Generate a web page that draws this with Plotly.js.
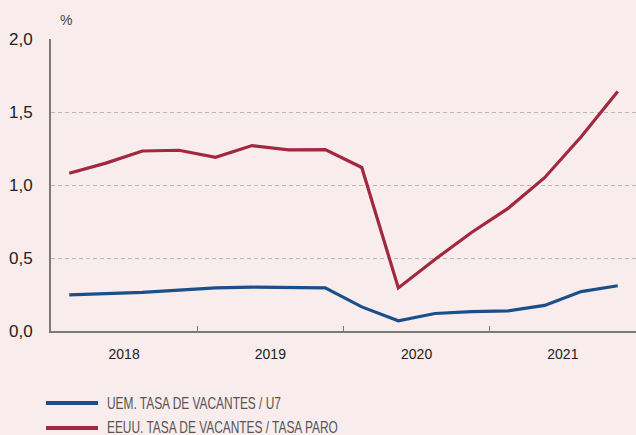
<!DOCTYPE html>
<html>
<head>
<meta charset="utf-8">
<script src="https://cdn.plot.ly/plotly-3.0.1.min.js"></script>
<style>
html,body{margin:0;padding:0;background:#F8ECEC;}
#chart{width:636px;height:435px;}
</style>
</head>
<body>
<div id="chart"></div>
<script>
// Quarterly data, 2018 T1 .. 2021 T4
const quarters = ["2018-T1","2018-T2","2018-T3","2018-T4","2019-T1","2019-T2","2019-T3","2019-T4","2020-T1","2020-T2","2020-T3","2020-T4","2021-T1","2021-T2","2021-T3","2021-T4"];
const years = ["2018","2019","2020","2021"];
const uemValues = [0.247,0.256,0.265,0.28,0.295,0.30,0.295,0.295,0.165,0.07,0.12,0.133,0.138,0.175,0.27,0.31];
const eeuuValues = [1.08,1.15,1.233,1.238,1.19,1.27,1.24,1.242,1.12,0.295,0.49,0.675,0.84,1.05,1.33,1.64];
const seriesNames = ["UEM. TASA DE VACANTES / U7","EEUU. TASA DE VACANTES / TASA PARO"];
const yTicks = [0,0.5,1.0,1.5,2.0];

const colors = ["#1B4F8A","#A2283F"];
const xIdx = quarters.map((q,i)=>i);
const perYear = quarters.length / years.length;
const yearCenters = years.map((y,i)=>i*perYear + (perYear-1)/2);
const yearBounds = years.slice(1).map((y,i)=>(i+1)*perYear - 0.5);

const traces = [
  {x:xIdx, y:uemValues, type:"scatter", mode:"lines", name:seriesNames[0], line:{color:colors[0], width:3.2}, showlegend:false, hoverinfo:"skip"},
  {x:xIdx, y:eeuuValues, type:"scatter", mode:"lines", name:seriesNames[1], line:{color:colors[1], width:3.2}, showlegend:false, hoverinfo:"skip"},
  {x:yearBounds, y:yearBounds.map(()=>0), xaxis:"x2", type:"scatter", mode:"markers", marker:{opacity:0}, showlegend:false, hoverinfo:"skip"}
];

const plotTop = 39, plotBottom = 331;
const plotH = plotBottom - plotTop;
const legY = [403, 428];
const shapes = [];
const annotations = [
  {xref:"paper", yref:"paper", x:0.012, y:(plotBottom-20)/plotH, text:"%", showarrow:false, xanchor:"left", yanchor:"middle", font:{family:"Liberation Sans, Arial, sans-serif", size:14, color:"#444"}}
];
seriesNames.forEach((n,i)=>{
  const yp = (plotBottom - legY[i]) / plotH;
  shapes.push({type:"line", xref:"paper", yref:"paper", x0:(46-51)/585, x1:(98-51)/585, y0:yp, y1:yp, line:{color:colors[i], width:4}});
  annotations.push({xref:"paper", yref:"paper", x:(105-51)/585, y:yp, text:n, showarrow:false, xanchor:"left", yanchor:"middle", font:{family:"Liberation Sans, Arial, sans-serif", size:17, color:"#555"}});
});

const layout = {
  width:636, height:435,
  paper_bgcolor:"#F8ECEC", plot_bgcolor:"#F8ECEC",
  margin:{l:51, r:0, t:plotTop, b:435-plotBottom},
  separators:",.",
  showlegend:false,
  xaxis:{
    range:[-0.5, quarters.length-0.5], tickmode:"array", tickvals:yearCenters, ticktext:years,
    ticks:"", showgrid:false, zeroline:false, showline:true, linecolor:"#7a7a7a", linewidth:1.5,
    tickfont:{family:"Liberation Sans, Arial, sans-serif", size:14, color:"#222"}, ticklabelstandoff:10, fixedrange:true
  },
  xaxis2:{
    overlaying:"x", matches:"x", range:[-0.5, quarters.length-0.5], tickmode:"array", tickvals:yearBounds, ticktext:yearBounds.map(()=>""),
    ticks:"inside", ticklen:5, tickwidth:1, tickcolor:"#7a7a7a", showgrid:false, zeroline:false, showline:false, anchor:"y", side:"bottom"
  },
  yaxis:{
    range:[0,2.0], tickmode:"array", tickvals:yTicks, tickformat:".1f",
    showgrid:true, gridcolor:"#b8b8b8", griddash:"4px,3px", gridwidth:1,
    zeroline:false, showline:true, linecolor:"#7a7a7a", linewidth:2,
    ticks:"", tickfont:{family:"Liberation Sans, Arial, sans-serif", size:17, color:"#222"}, ticklabelstandoff:13, fixedrange:true
  },
  shapes:shapes,
  annotations:annotations
};

Plotly.newPlot("chart", traces, layout, {displayModeBar:false, staticPlot:true}).then(()=>{
  // condensed look for the legend texts (keeps real text)
  document.querySelectorAll(".annotation-text").forEach(el=>{
    if (seriesNames.indexOf(el.textContent) >= 0) {
      const bb = el.getBBox();
      el.setAttribute("text-anchor","start");
      el.setAttribute("x", bb.x);
      el.setAttribute("textLength", (bb.width*0.70).toFixed(1));
      el.setAttribute("lengthAdjust","spacingAndGlyphs");
    }
  });
});
</script>
</body>
</html>
